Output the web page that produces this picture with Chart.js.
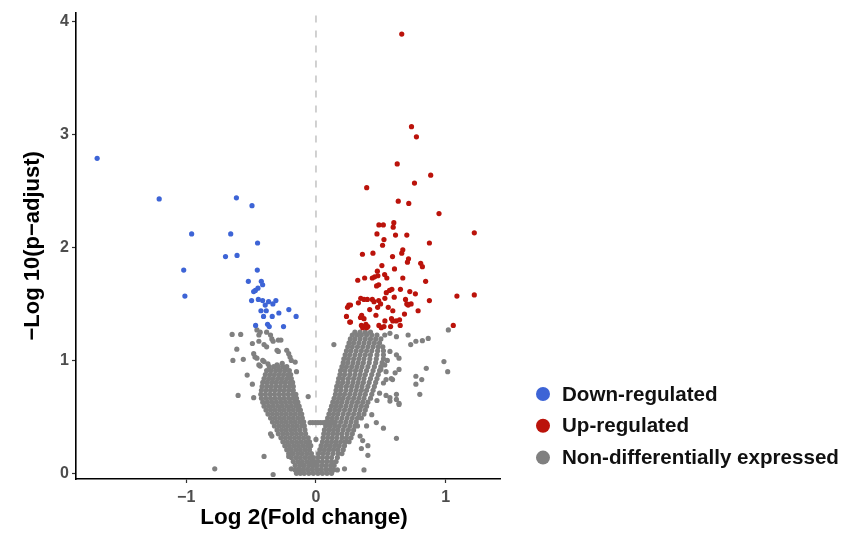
<!DOCTYPE html>
<html>
<head>
<meta charset="utf-8">
<script src="https://cdn.jsdelivr.net/npm/chart.js@4.4.1/dist/chart.umd.min.js"></script>
<style>
    html, body { margin: 0; padding: 0; background: #fff; }
    #volcano { display: block; }
</style>
</head>
<body>
<canvas id="volcano" width="844" height="533"></canvas>
<script>
// ===== Volcano plot data =====

const seriesLabels = ['Down-regulated', 'Up-regulated', 'Non-differentially expressed'];
const seriesColors = ['#3d64d6', '#bb130b', '#808080'];

const xTickValues = [-1, 0, 1];
const yTickValues = [0, 1, 2, 3, 4];

// Down-regulated genes
const downX = [-1.686, -1.208, -0.613, -0.493, -0.958, -0.657, -0.45, -0.697, -0.608, -0.452,
    -1.019, -1.01, -0.521, -0.421, -0.411, -0.447, -0.467, -0.48, -0.496, -0.444,
    -0.411, -0.365, -0.309, -0.332, -0.391, -0.424, -0.383, -0.209, -0.286, -0.404,
    -0.337, -0.153, -0.465, -0.373, -0.36, -0.25];
const downY = [2.79, 2.43, 2.44, 2.37, 2.12, 2.12, 2.04, 1.92, 1.93, 1.80,
    1.80, 1.57, 1.70, 1.70, 1.67, 1.64, 1.62, 1.61, 1.53, 1.54,
    1.53, 1.52, 1.53, 1.50, 1.49, 1.44, 1.44, 1.45, 1.42, 1.39,
    1.39, 1.39, 1.31, 1.32, 1.30, 1.30];

// Up-regulated genes
const upX = [0.661, 0.736, 0.774, 0.626, 0.884, 0.391, 0.759, 0.634, 0.715, 0.948,
    1.22, 0.485, 0.519, 0.60, 0.595, 0.47, 0.613, 0.70, 0.524, 0.513,
    0.874, 0.669, 0.358, 0.439, 0.661, 0.59, 0.713, 0.705, 0.807, 0.82,
    0.508, 0.605, 0.473, 0.529, 0.546, 0.477, 0.452, 0.434, 0.375, 0.322,
    0.669, 0.845, 0.483, 0.467, 0.585, 0.567, 0.651, 0.542, 0.723, 0.766,
    0.603, 0.69, 0.70, 0.733, 0.874, 1.086, 1.22, 0.345, 0.37, 0.396,
    0.434, 0.483, 0.498, 0.447, 0.531, 0.327, 0.253, 0.243, 0.266, 0.414,
    0.475, 0.557, 0.592, 0.71, 0.787, 0.682, 0.235, 0.352, 0.37, 0.343,
    0.462, 0.582, 0.592, 0.644, 0.649, 0.266, 0.35, 0.37, 0.385, 0.40,
    0.36, 0.39, 0.485, 0.503, 0.524, 0.575, 0.531, 1.058, 0.618, 0.26];
const upY = [3.89, 3.07, 2.98, 2.74, 2.64, 2.53, 2.57, 2.41, 2.39, 2.30,
    2.13, 2.20, 2.20, 2.22, 2.18, 2.12, 2.11, 2.11, 2.07, 2.02,
    2.04, 1.98, 1.94, 1.95, 1.95, 1.92, 1.90, 1.87, 1.86, 1.83,
    1.84, 1.81, 1.79, 1.76, 1.73, 1.75, 1.74, 1.73, 1.73, 1.71,
    1.73, 1.70, 1.67, 1.66, 1.63, 1.62, 1.63, 1.60, 1.61, 1.59,
    1.56, 1.54, 1.50, 1.50, 1.53, 1.57, 1.58, 1.55, 1.54, 1.54,
    1.54, 1.53, 1.50, 1.52, 1.55, 1.51, 1.49, 1.47, 1.49, 1.45,
    1.47, 1.47, 1.44, 1.49, 1.44, 1.41, 1.39, 1.40, 1.37, 1.38,
    1.40, 1.37, 1.35, 1.36, 1.31, 1.34, 1.31, 1.30, 1.32, 1.30,
    1.29, 1.29, 1.31, 1.29, 1.30, 1.30, 1.35, 1.31, 1.35, 1.34];

// Non-differentially expressed genes: the dense cloud, row by row
const nsRowY = [0.00, 0.035, 0.07, 0.105, 0.14, 0.175, 0.21, 0.245, 0.28, 0.315,
    0.35, 0.385, 0.42, 0.455, 0.49, 0.525, 0.56, 0.595, 0.63, 0.665,
    0.70, 0.735, 0.77, 0.805, 0.84, 0.875, 0.91, 0.945, 0.98, 1.015,
    1.05, 1.085, 1.12, 1.155, 1.19, 1.225, 1.25];
const nsRowX = [
    [-0.12, -0.09, -0.055, -0.02, 0.015, 0.05, 0.085, 0.12],
    [-0.135, -0.10, -0.065, -0.03, 0.005, 0.04, 0.075, 0.11],
    [-0.16, -0.125, -0.09, -0.055, -0.02, 0.01, 0.045, 0.08, 0.115, 0.14],
    [-0.175, -0.14, -0.105, -0.07, -0.035, -0.01, 0.015, 0.05, 0.085, 0.12, 0.155],
    [-0.19, -0.155, -0.12, -0.085, -0.05, -0.02, 0.015, 0.05, 0.085, 0.12, 0.165],
    [-0.21, -0.175, -0.14, -0.105, -0.07, -0.035, 0.02, 0.055, 0.09, 0.13, 0.17, 0.20],
    [-0.225, -0.19, -0.155, -0.12, -0.085, -0.05, 0.03, 0.065, 0.10, 0.135, 0.17, 0.21],
    [-0.24, -0.205, -0.17, -0.135, -0.10, -0.065, -0.04, 0.04, 0.075, 0.11, 0.145, 0.18, 0.22],
    [-0.255, -0.22, -0.185, -0.15, -0.115, -0.08, -0.05, 0.05, 0.085, 0.12, 0.155, 0.19, 0.225, 0.255],
    [-0.27, -0.235, -0.20, -0.165, -0.13, -0.095, -0.06, 0.055, 0.09, 0.125, 0.16, 0.20, 0.235, 0.27],
    [-0.29, -0.255, -0.22, -0.185, -0.15, -0.115, -0.08, 0.06, 0.095, 0.13, 0.165, 0.20, 0.24, 0.28],
    [-0.30, -0.265, -0.23, -0.195, -0.16, -0.125, -0.085, 0.065, 0.10, 0.135, 0.17, 0.21, 0.25, 0.29],
    [-0.32, -0.285, -0.25, -0.215, -0.18, -0.145, -0.11, -0.09, 0.075, 0.11, 0.145, 0.18, 0.22, 0.26, 0.30, 0.32],
    [-0.335, -0.30, -0.265, -0.23, -0.195, -0.16, -0.125, -0.095, 0.08, 0.115, 0.15, 0.19, 0.23, 0.27, 0.31],
    [-0.35, -0.315, -0.28, -0.245, -0.21, -0.175, -0.14, -0.105, 0.09, 0.125, 0.16, 0.20, 0.24, 0.28, 0.32, 0.35],
    [-0.37, -0.335, -0.30, -0.265, -0.23, -0.195, -0.16, -0.125, -0.11, 0.10, 0.135, 0.17, 0.21, 0.25, 0.29, 0.33, 0.37],
    [-0.385, -0.35, -0.315, -0.28, -0.245, -0.21, -0.175, -0.14, -0.12, 0.11, 0.145, 0.18, 0.22, 0.26, 0.30, 0.34, 0.38],
    [-0.40, -0.365, -0.33, -0.295, -0.26, -0.225, -0.19, -0.155, -0.13, 0.12, 0.155, 0.19, 0.23, 0.27, 0.31, 0.35, 0.39],
    [-0.41, -0.375, -0.34, -0.305, -0.27, -0.235, -0.20, -0.165, -0.14, 0.13, 0.165, 0.20, 0.24, 0.28, 0.32, 0.36, 0.40],
    [-0.42, -0.385, -0.35, -0.315, -0.28, -0.245, -0.21, -0.175, -0.15, 0.14, 0.175, 0.21, 0.25, 0.29, 0.33, 0.37, 0.42],
    [-0.425, -0.39, -0.355, -0.32, -0.285, -0.25, -0.215, -0.18, -0.155, 0.15, 0.185, 0.22, 0.26, 0.30, 0.34, 0.38, 0.43],
    [-0.42, -0.385, -0.35, -0.315, -0.28, -0.245, -0.21, -0.175, 0.155, 0.19, 0.23, 0.27, 0.31, 0.35, 0.39, 0.44],
    [-0.415, -0.38, -0.345, -0.31, -0.275, -0.24, -0.205, -0.175, 0.16, 0.195, 0.235, 0.275, 0.315, 0.355, 0.40, 0.45],
    [-0.41, -0.375, -0.34, -0.305, -0.27, -0.235, -0.20, -0.18, 0.17, 0.205, 0.245, 0.285, 0.325, 0.365, 0.41, 0.46],
    [-0.40, -0.365, -0.33, -0.295, -0.26, -0.225, -0.19, 0.175, 0.21, 0.25, 0.29, 0.33, 0.37, 0.42, 0.47],
    [-0.39, -0.355, -0.32, -0.285, -0.25, -0.215, -0.195, 0.185, 0.22, 0.26, 0.30, 0.34, 0.38, 0.43, 0.48],
    [-0.38, -0.345, -0.31, -0.275, -0.24, -0.205, 0.19, 0.225, 0.265, 0.305, 0.345, 0.39, 0.44, 0.49],
    [-0.36, -0.325, -0.29, -0.255, -0.225, 0.20, 0.235, 0.275, 0.315, 0.355, 0.40, 0.45, 0.50],
    [0.21, 0.245, 0.285, 0.325, 0.365, 0.41, 0.46, 0.51],
    [0.215, 0.25, 0.29, 0.33, 0.37, 0.415, 0.465, 0.52],
    [0.225, 0.26, 0.30, 0.34, 0.38, 0.42, 0.47, 0.52],
    [0.235, 0.27, 0.31, 0.35, 0.39, 0.43, 0.475, 0.52],
    [0.245, 0.28, 0.32, 0.36, 0.40, 0.44, 0.48, 0.515],
    [0.255, 0.29, 0.33, 0.37, 0.41, 0.45, 0.49],
    [0.265, 0.30, 0.34, 0.38, 0.42, 0.46, 0.50],
    [0.28, 0.315, 0.35, 0.39, 0.43, 0.47],
    [0.30, 0.34, 0.38, 0.42]
];

// Non-differentially expressed genes: scattered points around the cloud
const nsX = [-0.646, -0.58, -0.455, -0.43, -0.44, -0.38, -0.35, -0.34, -0.33, -0.29,
    -0.27, -0.49, -0.44, -0.40, -0.38, -0.30, -0.29, -0.61, -0.48, -0.47,
    -0.455, -0.225, -0.21, -0.20, -0.19, -0.16, -0.64, -0.56, -0.44, -0.43,
    -0.15, -0.53, -0.49, -0.60, -0.48, -0.06, -0.35, -0.34, -0.40, -0.21,
    -0.78, -0.33, -0.16, -0.13, -0.19, -0.15, -0.37, -0.30, -0.26, -0.41,
    -0.40,
    -0.045, -0.025, -0.005, 0.015, 0.035, 0.055, 0.075, 0.095, 0.115, 0.13,
    0.138, 0.53, 0.57, 0.62, 0.71, 0.77, 0.82, 0.865, 0.73, 1.02,
    0.986, 1.015, 0.85, 0.77, 0.815, 0.77, 0.80, 0.57, 0.62, 0.64,
    0.55, 0.53, 0.50, 0.54, 0.61, 0.58, 0.52, 0.49, 0.54, 0.57,
    0.62, 0.64, 0.47, 0.64, 0.59, 0.54, 0.62, 0.64, 0.57, 0.52,
    0.62, 0.40, 0.40, 0.37, 0.165, 0.135, 0.22, 0.0, 0.43, 0.465,
    0.39, 0.34, 0.36, 0.35];
const nsY = [1.23, 1.23, 1.27, 1.25, 1.225, 1.25, 1.225, 1.19, 1.17, 1.18,
    1.18, 1.15, 1.17, 1.14, 1.12, 1.09, 1.08, 1.10, 1.06, 1.03,
    1.02, 1.09, 1.06, 1.03, 1.00, 0.985, 1.00, 1.01, 0.96, 0.95,
    0.90, 0.87, 0.79, 0.69, 0.67, 0.68, 0.35, 0.33, 0.15, 0.15,
    0.04, -0.01, 0.03, 0.03, 0.04, 0.00, 0.97, 0.96, 0.975, 1.00,
    0.99,
    0.45, 0.45, 0.45, 0.45, 0.45, 0.45, 0.45, 0.45, 0.45, 0.45,
    1.14, 1.225, 1.24, 1.21, 1.225, 1.17, 1.175, 1.195, 1.14, 1.27,
    0.99, 0.90, 0.93, 0.86, 0.83, 0.79, 0.70, 1.08, 1.05, 1.02,
    1.00, 0.96, 0.92, 0.90, 0.89, 0.84, 0.80, 0.71, 0.69, 0.67,
    0.655, 0.62, 0.645, 0.92, 0.83, 0.83, 0.70, 0.61, 0.64, 0.40,
    0.31, 0.245, 0.16, 0.03, 0.03, 0.03, 0.04, 0.30, 0.52, 0.45,
    0.42, 0.33, 0.29, 0.22];

// ===== Helpers =====

const FONT_FAMILY = "'Liberation Sans', Arial, Helvetica, sans-serif";

/**
 * Pair two value arrays into Chart.js {x, y} points
 */
function toPoints(xs, ys) {
    return xs.map((x, i) => ({ x, y: ys[i] }));
}

/**
 * Unfold the cloud rows into {x, y} points
 */
function rowsToPoints(rowY, rowX) {
    const pts = [];
    rowY.forEach((y, i) => {
        rowX[i].forEach(x => pts.push({ x, y }));
    });
    return pts;
}

// Dashed vertical line at log2 fold change = 0
const zeroLinePlugin = {
    id: 'zeroLine',
    beforeDatasetsDraw(chart) {
        const { ctx, chartArea, scales } = chart;
        const x = scales.x.getPixelForValue(0);
        ctx.save();
        ctx.strokeStyle = '#c2c2c2';
        ctx.lineWidth = 1.5;
        ctx.setLineDash([7, 8]);
        ctx.beginPath();
        ctx.moveTo(x, chartArea.top + 3);
        ctx.lineTo(x, chartArea.bottom);
        ctx.stroke();
        ctx.restore();
    }
};

// Legend at the lower right, plus the x axis title
const sideLegendPlugin = {
    id: 'sideLegend',
    afterDraw(chart) {
        const ctx = chart.ctx;
        ctx.save();
        ctx.textBaseline = 'middle';
        ctx.font = 'bold 20.6px ' + FONT_FAMILY;
        chart.data.datasets.forEach((ds, i) => {
            const y = 394 + i * 31.8;
            ctx.fillStyle = ds.backgroundColor;
            ctx.beginPath();
            ctx.arc(543, y, 7, 0, Math.PI * 2);
            ctx.fill();
            ctx.fillStyle = '#111';
            ctx.fillText(ds.label, 562, y + 1);
        });

        ctx.font = 'bold 22.5px ' + FONT_FAMILY;
        ctx.textAlign = 'center';
        ctx.fillStyle = '#000';
        ctx.fillText('Log 2(Fold change)', 304, 518);
        ctx.restore();
    }
};

const tickFont = { family: FONT_FAMILY, size: 16, weight: 'bold' };

function minusSign(value) {
    return String(value).replace('-', '\u2212');
}

new Chart(document.getElementById('volcano'), {
    type: 'scatter',
    data: {
        datasets: [
            {
                label: seriesLabels[0],
                data: toPoints(downX, downY),
                backgroundColor: seriesColors[0]
            },
            {
                label: seriesLabels[1],
                data: toPoints(upX, upY),
                backgroundColor: seriesColors[1]
            },
            {
                label: seriesLabels[2],
                data: rowsToPoints(nsRowY, nsRowX).concat(toPoints(nsX, nsY)),
                backgroundColor: seriesColors[2]
            }
        ]
    },
    options: {
        responsive: false,
        animation: false,
        devicePixelRatio: 1,
        layout: {
            padding: { top: 8, right: 344, left: 0, bottom: 0 }
        },
        elements: {
            point: { radius: 2.6, borderWidth: 0, hoverRadius: 2.6 }
        },
        plugins: {
            legend: { display: false },
            tooltip: { enabled: false }
        },
        scales: {
            x: {
                type: 'linear',
                min: -1.849,
                max: 1.418,
                afterFit: scale => { scale.height = 54; },
                afterBuildTicks: scale => {
                    scale.ticks = xTickValues.map(v => ({ value: v }));
                },
                border: { color: '#000', width: 1.6 },
                grid: {
                    drawOnChartArea: false,
                    tickLength: 4,
                    tickColor: '#333',
                    tickWidth: 1.2
                },
                ticks: {
                    font: tickFont,
                    color: '#4d4d4d',
                    padding: 5,
                    maxRotation: 0,
                    callback: minusSign
                }
            },
            y: {
                type: 'linear',
                min: -0.05,
                max: 4.08,
                afterFit: scale => { scale.width = 76; },
                afterBuildTicks: scale => {
                    scale.ticks = yTickValues.map(v => ({ value: v }));
                },
                border: { color: '#000', width: 1.6 },
                grid: {
                    drawOnChartArea: false,
                    tickLength: 4,
                    tickColor: '#333',
                    tickWidth: 1.2
                },
                ticks: {
                    font: tickFont,
                    color: '#4d4d4d',
                    padding: 3,
                    callback: minusSign
                },
                title: {
                    display: true,
                    text: '\u2212Log 10(p\u2212adjust)',
                    color: '#000',
                    font: { family: FONT_FAMILY, size: 22, weight: 'bold' },
                    padding: { top: 20, bottom: 0 }
                }
            }
        }
    },
    plugins: [zeroLinePlugin, sideLegendPlugin]
});
</script>
</body>
</html>
